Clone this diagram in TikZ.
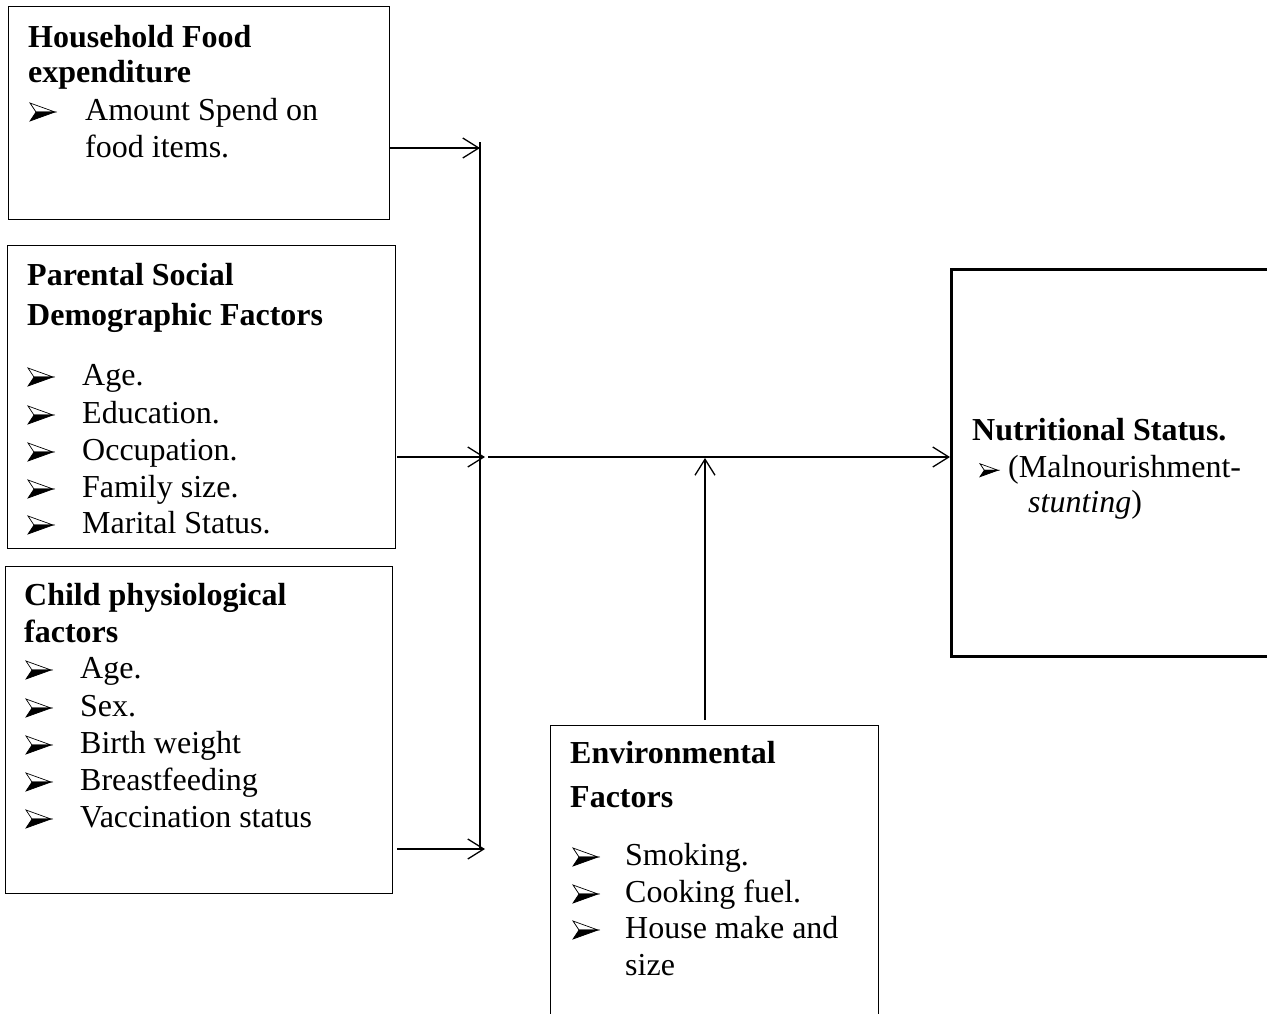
\documentclass[tikz,border=0pt]{standalone}
\usepackage{fontspec}
\setmainfont{Liberation Serif}
\usetikzlibrary{arrows.meta}
\tikzset{
  boxnode/.style={draw, line width=1.3pt, rectangle, inner sep=0pt, anchor=north west},
  thickbox/.style={draw, line width=2.8pt, rectangle, inner sep=0pt, anchor=north west},
  txt/.style={anchor=base west, inner sep=0pt, font=\fontsize{32}{37}\selectfont},
  hd/.style={txt, font=\fontsize{32}{37}\selectfont\bfseries},
  conn/.style={line width=1.3pt},
  arr/.style={line width=1.3pt, -{Straight Barb[length=16pt, width=20pt, line width=1.3pt]}},
  bulpic/.pic={
    \filldraw[fill=white, draw=black, line width=0.7pt, line join=miter]
      (0,-17) -- (25,-8) -- (6,-8) -- cycle;
    \filldraw[fill=black, draw=black, line width=0.7pt, line join=miter]
      (6,-8) -- (25,-8) -- (0,1) -- cycle;
  }
}
\begin{document}
\begin{tikzpicture}[x=1pt, y=-1pt]
\useasboundingbox (0,0) rectangle (1267,1013);
% boxes
\node[boxnode, minimum width=381pt, minimum height=213pt] (b1) at (8,6) {};
\node[boxnode, minimum width=388pt, minimum height=303pt] (b2) at (7,245) {};
\node[boxnode, minimum width=387pt, minimum height=327pt] (b3) at (5,566) {};
\node[boxnode, minimum width=328pt, minimum height=300pt] (b4) at (550,725) {};
\node[thickbox, minimum width=340pt, minimum height=387pt] (b5) at (950,268) {};
% box 1 text
\node[hd] (t11) at (28,47) {Household Food};
\node[hd] (t12) at (28,82) {expenditure};
\pic at (30,120) {bulpic};
\node[txt] (t14) at (85,120) {Amount Spend on};
\node[txt] (t15) at (85,157) {food items.};
% box 2 text
\node[hd] (t21) at (27,285) {Parental Social};
\node[hd] (t22) at (27,325) {Demographic Factors};
\foreach \yy in {385,423,460,497,533} \pic at (28,\yy) {bulpic};
\node[txt] (t24) at (82,385) {Age.};
\node[txt] (t26) at (82,423) {Education.};
\node[txt] (t28) at (82,460) {Occupation.};
\node[txt] (t2a) at (82,497) {Family size.};
\node[txt] (t2c) at (82,533) {Marital Status.};
% box 3 text
\node[hd] (t31) at (24,605) {Child physiological};
\node[hd] (t32) at (24,642) {factors};
\foreach \yy in {678,716,753,790,827} \pic at (26,\yy) {bulpic};
\node[txt] (t34) at (80,678) {Age.};
\node[txt] (t36) at (80,716) {Sex.};
\node[txt] (t38) at (80,753) {Birth weight};
\node[txt] (t3a) at (80,790) {Breastfeeding};
\node[txt] (t3c) at (80,827) {Vaccination status};
% box 4 text
\node[hd] (t41) at (570,763) {Environmental};
\node[hd] (t42) at (570,807) {Factors};
\foreach \yy in {865,902,938} \pic at (573,\yy) {bulpic};
\node[txt] (t44) at (625,865) {Smoking.};
\node[txt] (t46) at (625,902) {Cooking fuel.};
\node[txt] (t48) at (625,938) {House make and};
\node[txt] (t49) at (625,975) {size};
% box 5 text
\node[hd] (t51) at (972,440) {Nutritional Status.};
\pic[scale=0.72] at (980,476) {bulpic};
\node[txt] (t53) at (1008,477) {(Malnourishment-};
\node[txt] (t54) at (1028,512) {\itshape stunting\upshape)};
% connectors
\coordinate (bt) at (480,142);
\coordinate (j1) at (480,148);
\coordinate (j2) at (485,457);
\coordinate (j3) at (485,849);
\coordinate (bb) at (480,849);
\coordinate (m1) at (488,457);
\coordinate (up) at (705,458);
\draw[conn] (bt) -- (bb);
\draw[arr] (b1.east |- j1) -- (j1);
\draw[arr] ([xshift=1pt]b2.east |- j2) -- (j2);
\draw[arr] ([xshift=4pt]b3.east |- j3) -- (j3);
\draw[arr] (m1) -- (b5.west |- m1);
\draw[arr] ([yshift=5pt]b4.north -| up) -- (up);
\end{tikzpicture}
\end{document}
